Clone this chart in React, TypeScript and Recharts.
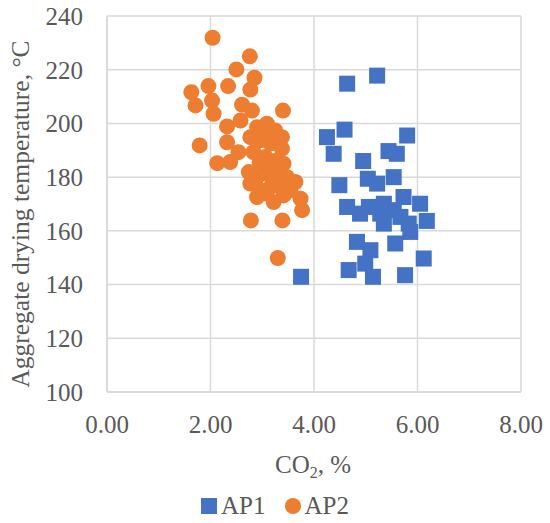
import React from 'react';
import { ScatterChart, Scatter, XAxis, YAxis, CartesianGrid, Legend } from 'recharts';

const ap1X = [4.64, 5.22, 4.59, 4.25, 4.38, 5.80, 4.95, 5.44, 5.60, 4.49, 5.04, 5.22, 5.54, 4.64, 4.89, 5.06, 5.35, 5.54, 5.73, 5.35, 5.83, 6.05, 6.18, 5.86, 5.57, 4.83, 5.09, 4.99, 4.67, 5.14, 5.76, 6.12, 3.75, 5.28, 5.67];
const ap1Y = [214.8, 217.8, 197.7, 194.9, 188.7, 195.5, 186.0, 189.7, 188.7, 177.0, 179.4, 177.6, 180.0, 168.9, 166.4, 168.9, 170.1, 167.7, 172.6, 162.7, 162.7, 170.1, 163.7, 159.6, 155.3, 155.9, 152.8, 147.8, 145.4, 142.9, 143.5, 149.7, 142.9, 166.4, 165.2];

const ap2X = [2.04, 2.76, 2.50, 2.85, 1.96, 2.34, 2.77, 1.63, 1.71, 2.03, 2.06, 2.61, 2.80, 3.40, 2.32, 2.58, 1.79, 2.32, 2.13, 2.38, 2.54, 2.78, 3.39, 3.30,
  2.90, 3.09, 3.25, 3.38, 2.77, 2.96, 3.16, 3.38, 2.83, 3.06, 3.28, 3.41, 2.74, 2.90, 3.09, 3.25, 3.48, 3.64, 2.77, 2.96, 3.16, 3.35, 3.54, 3.74, 2.90, 3.22, 3.41, 3.77,
  3.00, 3.18, 3.12, 3.30, 2.95, 3.22, 3.05];
const ap2Y = [231.9, 225.0, 220.1, 217.0, 213.9, 213.9, 212.6, 211.6, 206.7, 208.5, 203.6, 207.0, 204.8, 204.8, 198.9, 201.1, 191.8, 193.0, 185.2, 185.6, 189.3, 163.9, 163.9, 149.9,
  198.6, 199.9, 197.4, 194.9, 194.9, 193.7, 192.5, 190.6, 189.3, 187.5, 186.2, 185.0, 181.9, 180.0, 181.3, 180.0, 180.0, 178.2, 177.6, 175.1, 176.3, 176.3, 175.1, 172.0, 172.6, 170.7, 173.2, 167.7,
  196.0, 195.0, 184.0, 182.5, 185.5, 178.5, 174.0];

const xTicks = [0, 2, 4, 6, 8];
const yTicks = [100, 120, 140, 160, 180, 200, 220, 240];
const seriesNames = ['AP1', 'AP2'];

const ap1 = ap1X.map((x, i) => ({ x, y: ap1Y[i] }));
const ap2 = ap2X.map((x, i) => ({ x, y: ap2Y[i] }));

const BLUE = '#4472C4';
const ORANGE = '#ED7D31';
const GRID = '#d9d9d9';
const TEXT = '#595959';
const FONT = '"Liberation Serif", "Times New Roman", serif';

const SquareShape = (p: any) => <rect x={p.cx - 8} y={p.cy - 8} width={16} height={16} fill={BLUE} />;
const CircleShape = (p: any) => <circle cx={p.cx} cy={p.cy} r={8} fill={ORANGE} />;

const LegendContent = () => (
  <div style={{ display: 'flex', justifyContent: 'center', alignItems: 'center', fontFamily: FONT, fontSize: 25, color: TEXT, lineHeight: '30px' }}>
    <svg width={16} height={16} style={{ marginRight: 4 }}><rect width={16} height={16} fill={BLUE} /></svg>
    <span style={{ marginRight: 19 }}>{seriesNames[0]}</span>
    <svg width={16} height={16} style={{ marginRight: 4 }}><circle cx={8} cy={8} r={8} fill={ORANGE} /></svg>
    <span>{seriesNames[1]}</span>
  </div>
);

export default function App() {
  return (
    <div style={{ position: 'absolute', left: 0, top: 0, width: 550, height: 523, background: '#fff' }}>
      <ScatterChart width={550} height={523} margin={{ top: 16, right: 29, left: 0, bottom: 0 }}>
        <CartesianGrid stroke={GRID} strokeWidth={1.5} />
        <XAxis
          type="number"
          dataKey="x"
          domain={[0, 8]}
          ticks={xTicks}
          tickFormatter={(v: number) => v.toFixed(2)}
          height={131}
          tickLine={false}
          tickSize={0}
          tickMargin={23}
          axisLine={{ stroke: GRID, strokeWidth: 1.5 }}
          tick={{ fill: TEXT, fontSize: 25, fontFamily: FONT }}
          label={{
            content: () => (
              <text x={313} y={473} textAnchor="middle" fill={TEXT} fontSize={25} fontFamily={FONT}>
                CO<tspan fontSize={16} dy={5}>2</tspan><tspan dy={-5}>, %</tspan>
              </text>
            ),
          }}
        />
        <YAxis
          type="number"
          dataKey="y"
          domain={[100, 240]}
          ticks={yTicks}
          width={107}
          tickLine={false}
          tickSize={0}
          tickMargin={24}
          axisLine={{ stroke: GRID, strokeWidth: 1.5 }}
          tick={{ fill: TEXT, fontSize: 25, fontFamily: FONT }}
          label={{
            content: () => (
              <text transform="translate(29,214) rotate(-90)" textAnchor="middle" fill={TEXT} fontSize={25.5} fontFamily={FONT}>
                Aggregate drying temperature, °C
              </text>
            ),
          }}
        />
        <Legend
          layout="horizontal"
          verticalAlign="middle"
          align="center"
          content={<LegendContent />}
          wrapperStyle={{ top: 491, left: 0, width: 550, height: 30 }}
        />
        <Scatter name={seriesNames[0]} data={ap1} fill={BLUE} shape={SquareShape} isAnimationActive={false} />
        <Scatter name={seriesNames[1]} data={ap2} fill={ORANGE} shape={CircleShape} isAnimationActive={false} />
      </ScatterChart>
    </div>
  );
}
